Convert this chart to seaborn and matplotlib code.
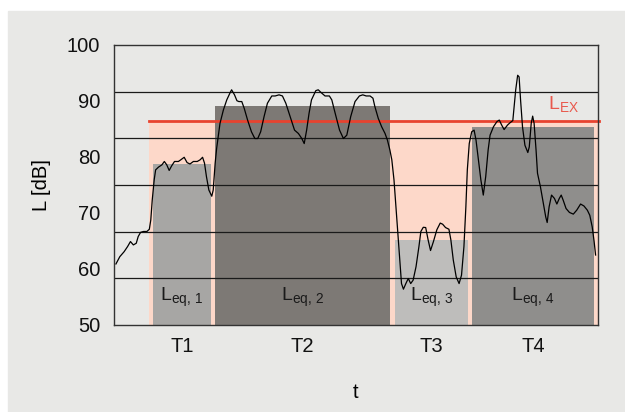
import numpy as np
import pandas as pd
import seaborn as sns
import matplotlib.pyplot as plt
from matplotlib.patches import Rectangle

# Intervalos T1..T4 (eje t en unidades arbitrarias 0-100)
seg_labels = ["T1", "T2", "T3", "T4"]
seg_left = [8.1, 20.9, 58.1, 74.0]
seg_right = [20.0, 57.0, 73.1, 99.1]
leq = [78.7, 89.1, 65.2, 85.4]
leq_labels = [r"$\mathregular{L_{eq,\,1}}$", r"$\mathregular{L_{eq,\,2}}$",
              r"$\mathregular{L_{eq,\,3}}$", r"$\mathregular{L_{eq,\,4}}$"]
bar_colors = ["#a7a6a4", "#7d7975", "#bebdbb", "#8f8e8c"]

lex = 86.5
lex_start = 7.2

# Nivel sonoro medido
t = [0.4, 1.2, 2.1, 2.8, 3.4, 4.0, 4.6, 5.0, 5.5, 6.1, 6.8, 7.3, 7.6, 7.9, 8.3,
     8.6, 9.2, 9.9, 10.4, 10.9, 11.4, 11.9, 12.5, 13.3, 13.8, 14.5, 15.1, 15.7,
     16.4, 17.2, 17.8, 18.3, 18.7, 19.1, 19.6, 20.2, 20.5, 20.9, 21.2, 21.6,
     21.9, 22.6, 23.3, 24.0, 24.3, 24.9, 25.4, 25.8, 26.4, 26.9, 27.6, 28.4,
     29.1, 29.7, 30.3, 31.0, 31.7, 32.6, 33.3, 34.1, 34.8, 35.5, 36.4, 37.3,
     38.1, 38.8, 39.3, 39.8, 40.3, 40.8, 41.7, 42.2, 42.8, 43.6, 44.5, 45.0,
     45.7, 46.6, 47.4, 48.1, 48.9, 49.8, 50.7, 51.4, 52.1, 52.9, 53.5, 53.9,
     54.6, 55.3, 56.0, 56.5, 57.0, 57.4, 57.85, 58.4, 59.0, 59.4, 59.8, 60.3,
     60.8, 61.3, 61.8, 62.4, 63.0, 63.4, 63.9, 64.4, 64.9, 65.4, 66.0, 66.7,
     67.4, 67.9, 68.5, 69.2, 69.6, 70.1, 70.7, 71.3, 71.8, 72.3, 72.7, 73.0,
     73.4, 73.9, 74.4, 74.8, 75.3, 75.8, 76.3, 76.8, 77.3, 77.7, 78.4, 79.1,
     79.6, 80.1, 80.6, 81.3, 81.8, 82.4, 82.6, 83.0, 83.4, 83.7, 84.0, 84.4,
     84.9, 85.5, 85.8, 86.2, 86.5, 86.8, 87.2, 87.5, 88.1, 88.7, 89.2, 89.5,
     89.9, 90.4, 91.0, 91.5, 92.0, 92.4, 92.8, 93.4, 94.1, 94.9, 95.6, 96.4,
     97.1, 97.8, 98.3, 98.8, 99.2, 99.5]
level = [60.9, 62.2, 63.1, 64.0, 64.9, 64.3, 64.6, 65.8, 66.55, 66.7, 66.7,
         67.1, 68.75, 72.3, 75.9, 77.7, 78.2, 78.6, 79.2, 78.6, 77.6, 78.4,
         79.2, 79.2, 79.5, 79.95, 79.0, 78.75, 79.2, 79.2, 79.5, 79.95, 78.9,
         76.5, 74.1, 73.0, 74.1, 78.9, 81.5, 84.0, 86.0, 88.4, 90.2, 91.5,
         92.0, 91.1, 90.05, 89.9, 89.9, 88.7, 86.6, 84.5, 83.3, 83.3, 84.5,
         87.2, 89.6, 90.9, 90.9, 91.1, 90.9, 89.6, 87.2, 84.8, 84.2, 83.3,
         82.4, 84.8, 87.8, 90.2, 91.85, 92.0, 91.5, 90.9, 90.9, 90.2, 87.8,
         84.8, 83.3, 83.9, 87.2, 89.9, 90.9, 91.1, 90.9, 90.9, 90.5, 89.0,
         86.9, 85.4, 84.2, 83.0, 81.25, 79.5, 75.9, 69.3, 62.2, 57.4, 56.4,
         57.4, 58.3, 57.4, 58.0, 60.4, 64.0, 66.7, 67.45, 67.4, 65.2, 63.3,
         64.9, 67.0, 68.2, 68.0, 67.4, 67.1, 65.2, 61.6, 58.6, 57.4, 58.9,
         64.0, 71.1, 77.7, 82.4, 84.5, 84.8, 83.0, 79.5, 75.9, 73.2, 76.5,
         81.25, 83.9, 85.4, 86.3, 86.6, 85.7, 84.9, 85.7, 86.1, 86.5, 88.4,
         92.0, 94.6, 94.3, 90.2, 85.4, 82.1, 80.8, 81.8, 86.0, 87.3, 86.0,
         81.25, 77.1, 74.7, 71.7, 69.3, 68.3, 71.1, 73.2, 72.6, 71.6, 72.6,
         73.2, 72.3, 70.8, 70.1, 69.8, 70.5, 71.6, 71.25, 70.5, 69.6, 67.55,
         64.9, 62.5]

df = pd.DataFrame({"t": t, "L": level})

bg = "#e8e8e6"
plt.rcParams["font.family"] = ["Liberation Sans", "DejaVu Sans"]
plt.rcParams["mathtext.default"] = "regular"

fig = plt.figure(figsize=(6.25, 4.12), dpi=100, facecolor="white")
fig.patches.append(Rectangle((8 / 625, 0), 1, (412 - 11) / 412,
                             transform=fig.transFigure, color=bg, zorder=-10))
ax = fig.add_axes([114 / 625, 87 / 412, 484 / 625, 280 / 412])
ax.set_facecolor(bg)

# zona L_EX
ax.fill_between([lex_start, 100.2], 50, lex, color="#fdd8c9", lw=0, zorder=1)

# barras L_eq con ancho variable
widths = np.array(seg_right) - np.array(seg_left)
ax.bar(seg_left, np.array(leq) - 50, width=widths, bottom=50, align="edge",
       color=bar_colors, lw=0, zorder=2)

# rejilla (6 divisiones)
ax.set_yticks(np.linspace(50, 100, 7), minor=True)
ax.grid(which="minor", axis="y", color="#1a1a1a", lw=0.9, zorder=3)
ax.grid(which="major", visible=False)
ax.set_axisbelow(False)

ax.plot([lex_start, 100.2], [lex, lex], color="#e8432f", lw=2, zorder=4,
        clip_on=False)
ax.text(89.7, 88.5, r"$\mathregular{L_{EX}}$", color="#e8584c", fontsize=14,
        ha="left", va="baseline", zorder=6)

sns.lineplot(data=df, x="t", y="L", ax=ax, color="black", lw=0.9, zorder=5)

centers = (np.array(seg_left) + np.array(seg_right)) / 2
for c, lab in zip(centers, leq_labels):
    ax.text(c, 54.2, lab, fontsize=14, color="#1a1a1a", ha="center",
            va="baseline", zorder=6)

ax.set_xlim(0, 100)
ax.set_ylim(50, 100)
ax.set_yticks(range(50, 101, 10))
ax.set_xticks(centers)
ax.set_xticklabels(seg_labels)
ax.tick_params(axis="both", which="both", length=0, labelsize=14.5,
               labelcolor="#111111")
ax.tick_params(axis="y", pad=10)
ax.tick_params(axis="x", pad=9)
ax.set_xlabel("t", fontsize=14.5, labelpad=19)
ax.set_ylabel("L [dB]", fontsize=14.5, labelpad=11)
for s in ax.spines.values():
    s.set_color("#333333")
    s.set_linewidth(1.0)
    s.set_zorder(7)

fig.savefig("out.png", dpi=100)
